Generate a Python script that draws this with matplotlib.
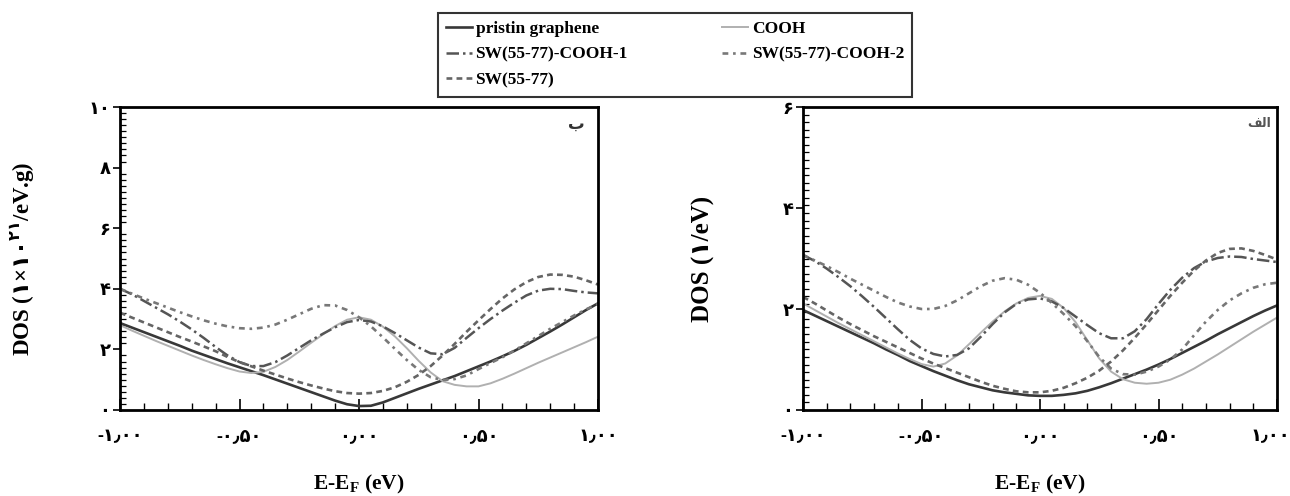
import matplotlib
matplotlib.use('Agg')
import matplotlib.pyplot as plt
import numpy as np
from matplotlib.ticker import MultipleLocator
from matplotlib.transforms import ScaledTranslation

plt.rcParams['font.family'] = ['Liberation Serif', 'DejaVu Sans']
plt.rcParams['font.weight'] = 'bold'
plt.rcParams['mathtext.fontset'] = 'custom'
plt.rcParams['mathtext.rm'] = 'Liberation Serif:bold'
plt.rcParams['mathtext.bf'] = 'Liberation Serif:bold'
plt.rcParams['mathtext.sf'] = 'DejaVu Sans:bold'

# energy grid (E - EF, eV)
energy = np.round(np.arange(-1.0, 1.0001, 0.05), 2)

# ---- panel b (per gram) ----
pristine_b = [2.87, 2.72, 2.57, 2.42, 2.27, 2.12, 1.96, 1.82, 1.68, 1.54,
              1.41, 1.28, 1.15, 1.01, 0.87, 0.73, 0.59, 0.45, 0.31, 0.19,
              0.13, 0.14, 0.25, 0.40, 0.55, 0.70, 0.84, 0.98, 1.12, 1.28,
              1.44, 1.60, 1.77, 1.95, 2.15, 2.37, 2.59, 2.82, 3.06, 3.30, 3.52]
cooh_b = [2.80, 2.62, 2.45, 2.28, 2.12, 1.96, 1.80, 1.65, 1.51, 1.38,
          1.27, 1.22, 1.26, 1.42, 1.65, 1.93, 2.22, 2.50, 2.77, 2.98,
          3.06, 2.98, 2.75, 2.43, 2.04, 1.62, 1.24, 0.95, 0.83, 0.78,
          0.78, 0.88, 1.03, 1.20, 1.38, 1.56, 1.73, 1.90, 2.07, 2.24, 2.42]
sw_cooh1_b = [4.00, 3.82, 3.60, 3.38, 3.16, 2.92, 2.66, 2.38, 2.08, 1.80,
              1.58, 1.45, 1.45, 1.58, 1.80, 2.05, 2.30, 2.52, 2.73, 2.90,
              2.97, 2.92, 2.76, 2.54, 2.30, 2.06, 1.87, 1.84, 2.05, 2.38,
              2.70, 3.00, 3.28, 3.54, 3.78, 3.94, 4.00, 3.99, 3.93, 3.88, 3.85]
sw_cooh2_b = [4.00, 3.84, 3.68, 3.53, 3.38, 3.23, 3.09, 2.96, 2.85, 2.76,
              2.70, 2.68, 2.72, 2.82, 2.98, 3.16, 3.34, 3.46, 3.45, 3.30,
              3.06, 2.76, 2.40, 2.02, 1.65, 1.32, 1.08, 0.99, 1.02, 1.14,
              1.35, 1.55, 1.74, 1.96, 2.20, 2.44, 2.68, 2.90, 3.12, 3.32, 3.50]
sw_b = [3.21, 3.05, 2.89, 2.73, 2.57, 2.41, 2.26, 2.10, 1.94, 1.75,
        1.58, 1.44, 1.30, 1.17, 1.04, 0.92, 0.81, 0.71, 0.62, 0.56,
        0.54, 0.56, 0.63, 0.75, 0.93, 1.16, 1.45, 1.80, 2.18, 2.58,
        2.96, 3.33, 3.68, 3.98, 4.22, 4.39, 4.47, 4.46, 4.40, 4.28, 4.14]

# ---- panel a (per eV) ----
pristine_a = [1.98, 1.87, 1.76, 1.65, 1.54, 1.43, 1.32, 1.20, 1.09, 0.97,
              0.87, 0.77, 0.68, 0.59, 0.51, 0.45, 0.39, 0.35, 0.32, 0.29,
              0.28, 0.28, 0.30, 0.33, 0.38, 0.45, 0.53, 0.62, 0.71, 0.80,
              0.90, 1.01, 1.13, 1.25, 1.37, 1.50, 1.62, 1.74, 1.86, 1.97, 2.07]
cooh_a = [2.11, 1.98, 1.85, 1.72, 1.60, 1.48, 1.36, 1.24, 1.12, 1.01,
          0.91, 0.86, 0.92, 1.08, 1.30, 1.53, 1.75, 1.95, 2.11, 2.22,
          2.26, 2.20, 2.02, 1.74, 1.38, 1.02, 0.76, 0.61, 0.54, 0.52,
          0.54, 0.60, 0.70, 0.82, 0.96, 1.10, 1.25, 1.40, 1.55, 1.69, 1.83]
sw_cooh1_a = [3.07, 2.95, 2.80, 2.63, 2.45, 2.25, 2.04, 1.82, 1.60, 1.39,
              1.22, 1.11, 1.06, 1.09, 1.22, 1.45, 1.70, 1.93, 2.10, 2.19,
              2.21, 2.15, 2.02, 1.85, 1.68, 1.52, 1.42, 1.42, 1.56, 1.80,
              2.10, 2.38, 2.62, 2.81, 2.94, 3.01, 3.04, 3.03, 2.99, 2.96, 2.93]
sw_cooh2_a = [3.07, 2.96, 2.85, 2.73, 2.60, 2.48, 2.36, 2.24, 2.13, 2.05,
              2.00, 2.00, 2.06, 2.17, 2.31, 2.45, 2.56, 2.61, 2.58, 2.48,
              2.32, 2.12, 1.90, 1.66, 1.36, 1.05, 0.82, 0.71, 0.70, 0.76,
              0.86, 1.00, 1.20, 1.48, 1.75, 1.98, 2.17, 2.31, 2.42, 2.49, 2.52]
sw_a = [2.24, 2.11, 1.97, 1.83, 1.70, 1.58, 1.46, 1.35, 1.24, 1.13,
        1.02, 0.92, 0.83, 0.74, 0.65, 0.56, 0.48, 0.42, 0.37, 0.35,
        0.35, 0.38, 0.44, 0.53, 0.64, 0.78, 0.96, 1.18, 1.43, 1.70,
        1.98, 2.26, 2.52, 2.76, 2.96, 3.11, 3.19, 3.20, 3.15, 3.07, 2.98]

series_names = ['pristin graphene', 'COOH', 'SW(55-77)-COOH-1',
                'SW(55-77)-COOH-2', 'SW(55-77)']
x_ticks = [-1.0, -0.5, 0.0, 0.5, 1.0]
x_ticklabels = ['-۱٫۰۰', '-۰٫۵۰', '۰٫۰۰', '۰٫۵۰', '۱٫۰۰']

styles = {
    'pristin graphene': dict(color='#383838', lw=1.9, ls='-'),
    'COOH': dict(color='#b0b0b0', lw=1.4, ls='-'),
    'SW(55-77)-COOH-1': dict(color='#555555', lw=1.8, ls=(0, (5, 1.6, 1, 1.6))),
    'SW(55-77)-COOH-2': dict(color='#787878', lw=1.9, ls=(0, (2.2, 1.8, 1, 1.8))),
    'SW(55-77)': dict(color='#656565', lw=1.9, ls=(0, (2.2, 1.6))),
}

W, H = 1290, 496
fig = plt.figure(figsize=(W / 100, H / 100), dpi=100)
ax_b = fig.add_axes([120 / W, 86 / H, 478 / W, 303 / H])
ax_a = fig.add_axes([803 / W, 86 / H, 474 / W, 303 / H])

panels = [
    (ax_b, [pristine_b, cooh_b, sw_cooh1_b, sw_cooh2_b, sw_b]),
    (ax_a, [pristine_a, cooh_a, sw_cooh1_a, sw_cooh2_a, sw_a]),
]

handles = []
for ax, curves in panels:
    hs = []
    for name, vals in zip(series_names, curves):
        ln, = ax.plot(energy, vals, label=name, **styles[name])
        hs.append(ln)
    handles = hs
    ax.set_xlim(-1.0, 1.0)
    ax.set_xticks(x_ticks)
    ax.set_xticklabels(x_ticklabels, fontsize=13)
    ax.xaxis.set_minor_locator(MultipleLocator(0.1))
    ax.tick_params(axis='x', which='major', direction='in', length=8,
                   width=1.2, pad=13)
    ax.tick_params(axis='x', which='minor', direction='in', length=5,
                   width=1.0)
    ax.tick_params(axis='y', which='major', direction='out', length=5,
                   width=1.2, pad=2, labelsize=13)
    ax.tick_params(axis='y', which='minor', direction='in', length=4,
                   width=0.9)
    ax.tick_params(top=False, right=False)
    for sp in ax.spines.values():
        sp.set_linewidth(2.0)
    ax.set_xlabel('E-E$_\\mathregular{F}$ (eV)', fontsize=15.5,
                  fontweight='bold', labelpad=20)

# keep the last tick label inside the figure
last = ax_a.get_xticklabels()[-1]
last.set_transform(last.get_transform()
                   + ScaledTranslation(-0.07, 0, fig.dpi_scale_trans))

# panel b axes
ax_b.set_ylim(0, 10)
ax_b.set_yticks([0, 2, 4, 6, 8, 10])
ax_b.set_yticklabels(['۰', '۲', '۴', '۶', '۸', '۱۰'])
ax_b.yaxis.set_minor_locator(MultipleLocator(0.2))
ax_b.set_ylabel(r'DOS ($\mathsf{۱}$×$\mathsf{۱۰}^{\mathsf{۲۱}}$/eV.g)',
                fontsize=16.5, fontweight='bold')
ax_b.yaxis.set_label_coords(-0.174, 0.5)
ax_b.text(0.955, 0.94, 'ب', transform=ax_b.transAxes, fontsize=12,
          ha='center', va='center', color='#333333')

# panel a axes
ax_a.set_ylim(0, 6)
ax_a.set_yticks([0, 2, 4, 6])
ax_a.set_yticklabels(['۰', '۲', '۴', '۶'])
ax_a.yaxis.set_minor_locator(MultipleLocator(0.15))
ax_a.set_ylabel('DOS (۱/eV)', fontsize=18, fontweight='bold')
ax_a.yaxis.set_label_coords(-0.186, 0.5)
ax_a.text(0.962, 0.945, '\ufed2\ufedf\ufe8d', transform=ax_a.transAxes,
          fontsize=9, ha='center', va='center', color='#555555')

# shared legend on top
order = [0, 2, 4, 1, 3]
leg = fig.legend([handles[i] for i in order], [series_names[i] for i in order],
                 ncol=2, mode='expand', loc='upper left',
                 bbox_to_anchor=(438 / W, 1 - 97 / H, 474 / W, 84 / H),
                 borderaxespad=0, fancybox=False, frameon=True,
                 prop={'size': 12.5, 'weight': 'bold'},
                 handlelength=1.5, handletextpad=0.2, labelspacing=0.55,
                 borderpad=0.46)
leg.get_frame().set_edgecolor('black')
leg.get_frame().set_linewidth(1.5)

fig.savefig('out.png', dpi=100)
